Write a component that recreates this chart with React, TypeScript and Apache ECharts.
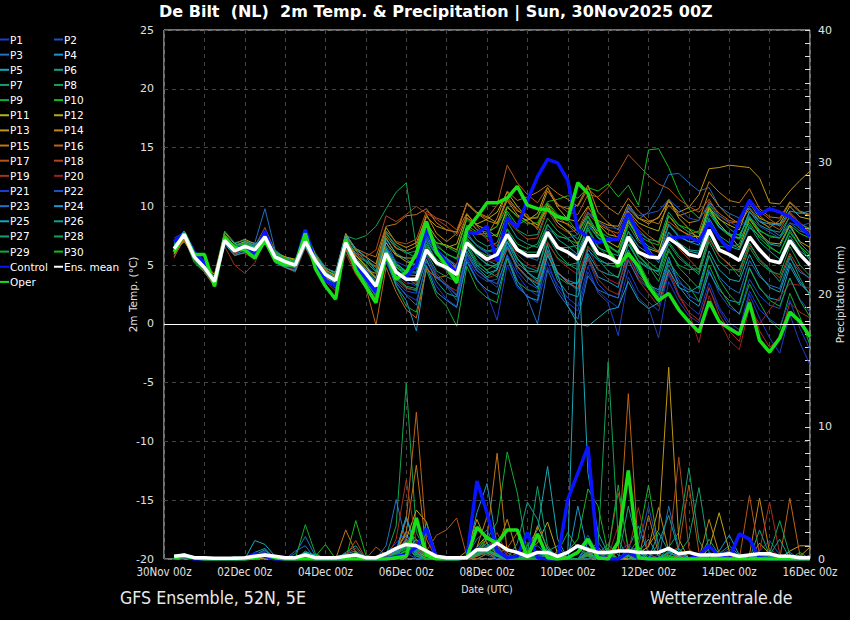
import React, { useEffect, useRef } from 'react';
import * as echarts from 'echarts';

const days = ['30Nov','01Dec','02Dec','03Dec','04Dec','05Dec','06Dec','07Dec','08Dec','09Dec','10Dec','11Dec','12Dec','13Dec','14Dec','15Dec','16Dec'];
const hours = ['00z','06z','12z','18z'];
const categories = days.flatMap(d => hours.map(h => `${d} ${h}`)).slice(0, 65);

const memberNames = ['P1','P2','P3','P4','P5','P6','P7','P8','P9','P10','P11','P12','P13','P14','P15','P16','P17','P18','P19','P20','P21','P22','P23','P24','P25','P26','P27','P28','P29','P30'];
const baseColors = ['#1e3cc8','#1e50c0','#2070c4','#1e96cc','#18a8b4','#12a08c','#12a06c','#12a452','#10ac38','#10bc1c','#b4b410','#bca814','#c09614','#c08614','#c07614','#c06414','#b85418','#b0441c','#a8301c','#a02020'];
const memberColors = [...baseColors, ...baseColors.slice(0, 10)];

// 2m temperature (°C), 6-hourly from 30Nov 06z to 16Dec 00z
const tP1 = [6.0,7.4,5.3,4.5, 3.3,6.8,6.0,6.2, 6.5,7.9,5.5,4.9, 4.6,7.3,5.0,3.8, 3.0,6.5,4.6,3.3, 2.2,5.2,3.4,2.5, 2.0,5.0,3.2,2.1, 1.5,5.5,3.8,2.6, 0.3,5.0,3.1,2.4, 1.8,4.8,3.3,2.2, 1.5,4.9,2.6,1.8, -1.0,4.0,2.2,1.4, -1.2,3.6,1.9,0.7, 0.1,3.0,1.2,-0.2, -0.8,2.5,0.5,-1.2, -2.5,0.8,-1.6,-3.5];
const tP2 = [6.8,7.9,6.1,5.0, 3.9,7.4,6.5,6.9, 6.0,7.2,5.4,5.0, 4.7,6.8,5.1,3.9, 3.3,6.4,4.8,3.6, 2.5,5.4,3.6,2.8, 2.6,5.8,4.0,3.2, 2.0,5.6,4.2,3.6, 3.8,6.9,4.5,3.5, 3.0,6.2,4.3,3.6, 2.8,5.5,3.4,2.5, 2.2,5.9,4.1,3.3, 2.7,5.4,3.8,2.4, 1.9,4.6,2.6,1.4, 0.9,3.8,2.4,1.6, 1.3,3.9,2.1,1.0];
const tP3 = [6.7,7.7,5.8,5.1, 3.8,7.2,6.7,7.0, 6.9,9.8,6.3,5.6, 5.3,7.4,5.7,4.4, 3.9,7.2,5.9,5.0, 4.0,7.0,5.2,4.4, 4.3,7.1,5.8,5.5, 5.0,7.8,6.6,6.1, 6.3,8.0,6.5,5.7, 5.4,7.6,6.6,6.2, 5.8,8.4,7.3,7.0, 7.2,9.8,8.9,9.5, 10.8,12.7,12.8,12.0, 11.3,11.6,10.0,9.4, 9.0,9.9,8.9,8.1, 7.5,8.6,7.9,7.6];
const tP4 = [7.1,7.8,5.5,4.6, 3.4,7.0,5.9,6.3, 6.1,7.0,5.3,5.1, 4.9,6.5,5.0,3.9, 3.5,6.6,5.0,4.0, 2.6,5.5,3.2,2.0, -0.6,4.9,2.7,2.0, 1.4,5.3,3.7,2.9, 2.5,5.6,3.3,2.3, 2.0,6.0,3.7,2.6, 2.3,5.8,4.0,3.6, 3.1,6.3,4.4,3.3, 2.9,5.7,3.2,2.1, 1.5,4.4,2.9,2.0, 1.8,4.8,3.0,2.2, 2.0,4.9,3.4,2.6];
const tP5 = [6.2,7.5,5.6,4.9, 3.7,7.3,6.3,6.8, 6.4,7.6,5.9,5.4, 5.2,7.1,5.5,4.4, 4.0,7.3,5.8,4.9, 3.9,6.6,5.1,4.5, 4.4,7.3,5.9,5.6, 4.8,7.2,6.2,5.4, 5.0,7.0,5.6,4.4, 3.6,6.3,4.4,3.5, 3.0,6.0,4.6,4.2, 4.0,6.8,5.3,4.7, 4.5,7.5,6.5,6.2, 6.0,8.8,7.2,6.6, 6.3,8.2,7.5,6.8, 6.6,8.3,6.9,6.0];
const tP6 = [6.5,7.7,5.9,5.0, 3.7,7.0,6.4,6.5, 6.4,7.5,6.0,5.5, 5.1,6.9,5.2,4.0, 3.2,6.3,4.5,3.5, 2.4,5.6,3.9,3.1, 2.8,5.5,3.6,2.6, 2.3,6.2,4.8,4.0, 4.6,7.4,5.5,4.8, 4.5,7.6,6.5,6.5, 6.7,8.8,7.9,7.4, 7.1,9.0,7.4,6.6, 6.2,8.5,7.5,7.0, 7.0,9.8,8.2,7.5, 7.3,9.6,8.4,8.0, 7.8,9.1,8.1,7.4];
const tP7 = [6.3,7.5,5.5,4.7, 3.5,7.0,6.1,6.4, 6.0,7.3,5.6,5.2, 5.0,7.5,5.8,4.8, 4.3,7.5,6.2,5.4, 4.9,7.8,6.5,6.0, 6.2,8.5,6.8,5.9, 5.6,8.3,7.1,6.6, 6.9,9.4,8.0,7.5, 7.6,9.8,8.6,7.9, 7.2,9.1,7.4,6.6, 6.1,8.6,7.8,7.2, 7.0,9.5,8.4,7.8, 7.4,10.2,9.0,8.1, 7.5,9.2,7.8,6.6, 6.0,8.0,6.6,5.4];
const tP8 = [6.6,7.9,5.8,4.8, 3.5,7.4,6.4,6.6, 6.2,7.6,5.9,5.5, 5.2,7.2,5.5,4.5, 4.2,7.5,7.2,7.5, 8.3,9.8,11.2,12.0, 6.5,7.0,5.3,4.5, 3.4,6.8,5.4,4.5, 4.0,6.4,4.8,3.9, 3.4,6.9,5.6,5.0, 5.2,7.5,6.1,5.8, 5.0,7.3,5.7,4.9, 3.6,6.2,5.0,4.6, 4.7,7.4,5.8,5.1, 4.0,6.5,5.2,4.5, 4.2,6.6,5.0,4.1];
const tP9 = [6.0,7.3,5.2,4.4, 3.2,7.6,6.5,6.9, 6.6,7.8,6.0,5.6, 5.3,7.0,5.3,4.1, 3.4,6.6,4.9,3.8, 2.3,5.9,3.2,1.5, 1.0,4.6,2.4,1.5, -0.2,4.9,3.0,2.2, 1.8,5.6,3.6,2.9, 2.7,5.9,4.0,3.4, 3.5,6.6,5.6,5.0, 4.8,7.1,5.3,3.6, 2.3,5.3,4.1,3.2, 1.9,5.0,3.1,1.7, 0.8,3.4,1.8,0.3, -0.5,2.6,0.6,-1.8];
const tP10 = [6.4,7.6,5.9,5.0, 3.8,7.0,6.3,6.7, 6.1,7.2,5.8,5.4, 5.0,7.0,5.6,4.3, 3.9,7.1,5.6,4.7, 3.6,6.3,5.0,4.4, 4.7,7.7,6.6,6.0, 5.5,8.4,7.8,7.4, 7.6,9.6,8.4,8.9, 9.1,10.4,10.6,10.9, 10.7,11.6,11.3,11.9, 10.8,11.8,10.1,14.8, 14.9,13.3,11.2,9.8, 9.0,10.0,8.5,7.6, 7.6,9.0,7.9,7.5, 7.3,8.4,7.7,7.3];
const tP11 = [5.9,7.4,6.0,5.1, 4.0,7.5,6.6,7.0, 6.7,7.7,6.1,5.7, 5.5,7.4,5.7,4.6, 4.1,7.2,5.8,4.9, 3.8,7.3,5.9,5.3, 5.0,8.0,6.9,6.7, 6.3,9.0,8.5,8.9, 9.5,11.2,10.0,9.0, 8.4,10.1,8.6,7.9, 6.8,8.7,7.6,7.0, 6.5,8.8,7.2,6.4, 6.1,9.2,8.1,7.5, 7.4,9.9,8.9,8.4, 8.0,10.3,9.0,8.6, 8.5,10.0,9.1,8.9];
const tP12 = [6.2,7.0,5.8,5.2, 4.2,7.8,6.8,7.2, 6.8,7.5,6.0,5.6, 5.4,7.3,5.5,4.5, 3.6,7.5,5.6,4.7, 3.9,6.9,5.8,5.6, 5.6,8.6,7.3,6.5, 6.8,9.3,8.4,8.0, 7.4,9.9,9.2,8.8, 9.4,11.6,9.9,8.9, 8.7,10.0,8.5,7.6, 7.4,9.6,8.6,8.2, 7.9,10.6,9.0,8.1, 7.1,9.8,8.5,7.6, 6.5,8.9,7.7,6.9, 6.8,8.4,7.0,6.5];
const tP13 = [6.1,7.3,5.6,4.9, 3.9,7.6,6.6,6.9, 6.5,7.8,6.1,5.7, 5.4,7.6,5.9,4.7, 4.4,7.7,6.3,5.7, 5.1,8.2,6.9,6.5, 6.9,9.1,8.3,8.0, 7.8,10.3,9.5,9.1, 8.6,10.5,9.3,8.7, 8.2,9.9,8.8,8.5, 7.9,9.5,8.8,8.4, 8.3,10.2,9.0,8.5, 9.1,10.4,9.5,9.9, 11.0,13.2,13.3,13.5, 13.4,13.3,12.4,10.3, 10.2,11.3,12.2,13.0];
const tP14 = [6.0,7.1,5.5,4.7, 3.6,7.2,6.3,6.4, 6.2,7.5,5.6,5.0, 4.8,6.9,5.3,4.3, 3.8,7.0,5.5,4.6, 4.3,7.5,6.4,6.2, 6.6,9.3,7.7,7.0, 7.7,10.2,9.4,8.8, 8.5,10.8,9.7,9.0, 9.0,11.3,10.1,9.8, 10.1,11.8,9.5,8.6, 8.0,9.9,9.0,8.7, 9.0,10.6,9.3,8.6, 8.8,11.2,10.0,9.1, 8.5,9.8,8.7,8.2, 8.8,10.3,9.5,9.2];
const tP15 = [5.7,7.2,5.4,4.6, 3.4,7.1,6.3,6.5, 6.1,7.4,5.5,5.1, 4.9,7.4,5.6,4.6, 4.0,7.6,6.4,6.0, 5.7,8.3,8.5,9.2, 9.3,9.8,8.6,8.0, 7.8,9.4,8.3,7.5, 9.0,11.3,10.5,10.8, 11.2,11.8,11.1,10.6, 10.0,11.5,10.7,9.9, 9.3,10.7,9.6,8.8, 8.5,10.1,9.2,9.5, 9.8,12.1,11.2,10.5, 10.3,11.5,9.8,9.1, 9.0,10.4,9.6,9.3];
const tP16 = [6.2,7.8,5.9,5.0, 3.9,7.1,6.2,6.7, 6.5,7.9,5.8,5.2, 4.8,7.1,5.2,4.0, 3.1,6.4,4.3,3.1, -0.1,4.8,2.7,1.2, 0.5,4.7,3.9,4.1, 5.1,8.2,7.6,7.7, 8.3,10.6,9.6,9.3, 8.0,10.2,9.1,8.4, 7.6,9.4,8.5,8.0, 7.7,9.5,8.3,7.5, 6.9,8.7,8.0,7.6, 7.9,10.4,9.4,8.8, 8.6,10.6,9.6,8.9, 8.3,9.4,8.4,7.8];
const tP17 = [6.3,7.9,5.7,4.9, 3.7,7.3,6.5,6.8, 6.6,8.2,6.2,5.5, 5.1,7.3,5.5,4.2, 3.5,7.0,5.8,5.3, 4.8,7.9,7.0,6.8, 7.2,9.6,9.0,8.7, 8.0,10.2,9.4,9.0, 10.1,13.5,12.0,11.0, 10.3,11.6,10.2,9.5, 9.3,11.0,10.8,11.6, 12.9,14.4,13.5,12.6, 11.9,11.5,10.6,10.0, 9.5,10.6,9.2,8.6, 8.7,10.3,9.2,8.5, 8.0,9.5,8.6,7.9];
const tP18 = [5.6,7.6,5.4,4.4, 3.2,6.9,5.9,6.0, 5.5,7.0,5.3,4.8, 4.6,6.6,5.1,4.0, 3.6,7.1,6.0,5.7, 6.3,9.2,8.7,9.3, 10.0,9.4,8.9,8.3, 7.5,9.1,8.0,7.2, 6.6,8.8,7.9,7.2, 7.3,9.7,8.3,7.8, 8.0,9.9,8.7,8.1, 7.3,9.1,8.0,7.2, 6.0,7.8,6.4,5.5, 4.6,7.2,5.8,5.0, 4.4,6.7,5.5,4.7, 3.9,6.0,4.6,3.8];
const tP19 = [6.1,7.5,5.6,4.6, 3.3,6.6,5.0,4.3, 5.2,7.3,5.4,4.8, 4.4,6.5,4.8,3.6, 2.8,6.0,4.2,3.0, 2.2,5.6,3.8,3.0, 2.9,5.9,4.1,3.3, 2.8,5.9,4.5,3.9, 4.2,6.5,4.8,4.0, 3.5,6.1,4.4,3.6, 3.0,5.6,3.8,2.9, 2.5,5.5,3.7,2.6, 1.5,4.4,2.3,1.0, 0.3,3.1,0.8,-0.6, -1.5,2.1,-0.6,-2.0, -1.2,1.8,1.0,0.5];
const tP20 = [6.5,7.7,5.8,4.9, 3.6,7.0,6.0,6.4, 6.2,7.6,5.6,5.2, 4.9,7.0,5.3,4.2, 3.7,6.9,5.2,4.2, 3.0,6.0,4.1,3.4, 3.5,6.5,5.0,4.6, 4.4,7.2,6.0,5.3, 5.4,7.3,5.9,5.1, 4.7,7.0,5.5,4.8, 4.2,6.5,4.7,3.8, 3.4,5.8,4.0,3.1, 2.2,4.7,2.5,1.0, -1.6,2.4,0.3,-1.4, -2.2,1.4,0.0,1.2, 2.3,3.4,3.3,3.0];
const tP21 = [7.3,7.8,6.0,5.0, 3.9,7.3,6.2,6.5, 6.4,7.7,5.9,5.4, 5.0,7.1,5.4,4.2, 3.6,6.8,5.2,4.2, 3.0,5.9,4.3,3.6, 3.2,5.8,4.3,3.4, 2.5,5.8,4.5,3.8, 3.1,5.9,4.2,3.0, 2.4,5.3,3.0,1.8, 1.1,4.4,2.8,2.0, 1.4,4.6,2.8,1.9, 1.1,4.2,2.4,1.5, 0.8,3.5,1.4,0.1, -0.5,2.8,1.2,0.4, -0.2,2.0,-0.4,-2.2];
const tP22 = [6.6,7.6,5.7,4.8, 3.5,6.9,6.3,6.6, 6.3,7.3,5.8,5.3, 5.0,6.8,5.3,4.1, 3.8,6.9,5.6,4.6, 3.8,6.5,5.3,4.9, 5.2,7.3,6.3,5.6, 5.0,7.6,6.6,6.0, 5.6,7.6,6.2,5.6, 5.8,8.1,7.4,7.3, 7.6,9.5,8.7,8.2, 8.1,10.0,9.2,9.4, 9.6,10.6,9.8,9.0, 8.8,10.3,9.2,8.7, 8.2,9.1,8.3,7.8, 7.3,8.6,8.3,8.6];
const tP23 = [6.8,7.7,5.9,5.1, 3.7,7.2,6.4,6.9, 6.7,7.9,6.0,5.6, 5.3,7.2,5.6,4.5, 3.8,6.7,4.8,3.6, 2.5,5.5,3.5,2.4, 1.6,5.3,3.9,3.3, 2.4,6.0,4.6,3.8, 3.4,5.8,3.7,2.2, 0.0,4.6,2.7,1.5, 0.4,4.1,2.9,2.5, 2.2,5.4,3.8,3.0, 2.5,5.0,3.5,2.9, 2.6,5.8,4.0,3.1, 2.6,5.4,4.0,3.3, 3.0,5.6,4.4,3.9];
const tP24 = [6.9,7.9,6.2,5.3, 3.8,7.2,6.6,6.8, 6.5,7.5,6.0,5.6, 5.4,7.4,5.8,4.7, 4.4,7.6,6.4,5.7, 4.5,7.2,6.0,5.5, 4.9,7.5,6.2,5.4, 4.3,7.0,5.8,5.1, 4.7,6.6,4.9,4.0, 3.1,5.8,4.3,3.7, 3.4,6.3,5.4,5.1, 5.2,7.9,6.6,6.0, 5.7,8.4,7.4,7.0, 6.7,9.4,8.2,7.7, 7.3,9.5,8.7,8.5, 8.4,9.6,9.4,9.6];
const tP25 = [6.4,7.4,5.5,4.6, 3.4,6.8,5.8,6.1, 5.9,7.1,5.2,4.8, 4.5,6.6,4.9,3.7, 3.1,6.6,5.1,4.3, 3.4,6.4,4.8,4.2, 4.1,6.8,5.4,4.6, 3.9,6.5,5.0,4.3, 4.6,7.0,5.2,4.4, 3.8,6.7,4.2,1.5, 0.0,-0.2,0.5,1.2, 1.4,3.6,2.0,1.3, 1.8,4.6,3.1,2.7, 3.2,6.2,4.6,3.8, 3.6,5.9,4.2,3.1, 2.7,5.2,3.6,2.5];
const tP26 = [6.7,7.6,5.9,5.0, 3.6,7.1,6.2,6.6, 6.4,7.4,5.7,5.4, 5.0,7.3,5.5,4.3, 3.7,7.0,5.5,4.5, 3.5,6.4,4.9,4.0, 3.3,6.2,5.0,4.7, 4.8,7.5,6.7,6.2, 6.4,8.7,7.3,6.8, 6.5,8.5,7.2,6.6, 5.9,8.0,6.5,6.1, 5.8,8.4,7.0,6.4, 5.2,7.8,6.9,6.3, 6.2,9.0,7.5,6.9, 6.4,8.4,7.0,6.2, 5.5,7.5,6.2,5.6];
const tP27 = [6.2,7.7,5.8,4.8, 3.5,7.9,6.9,7.1, 6.6,7.6,5.9,5.4, 5.2,7.8,6.0,4.8, 4.2,7.3,6.0,5.3, 4.4,7.7,6.7,6.1, 5.6,8.0,6.4,5.5, 4.6,7.0,5.8,5.0, 4.9,7.3,5.6,4.5, 4.4,7.5,6.0,5.1, 4.6,7.2,5.5,4.5, 3.9,6.8,5.4,4.8, 4.4,6.8,5.6,4.9, 4.2,7.0,5.3,4.6, 4.6,6.9,5.4,4.6, 3.6,5.8,3.9,2.4];
const tP28 = [6.5,7.8,5.4,4.5, 3.3,7.2,6.7,6.9, 6.6,7.9,6.2,5.6, 5.2,6.9,5.4,4.1, 3.5,6.6,4.8,3.6, 2.6,5.7,4.0,3.2, 3.0,6.1,4.5,4.0, 3.6,6.6,5.2,4.6, 5.1,7.6,6.4,6.1, 6.1,8.4,7.5,7.2, 6.8,8.6,7.3,6.6, 6.0,7.8,6.2,5.3, 4.6,7.0,5.8,5.0, 4.4,7.6,6.6,6.5, 6.8,9.1,8.0,7.4, 7.3,9.2,8.5,8.1];
const tP29 = [6.3,7.6,5.6,4.8, 3.6,7.4,6.4,6.7, 6.4,7.6,5.9,5.5, 5.1,7.1,5.4,4.3, 3.8,6.8,5.2,4.1, 3.0,6.1,4.6,3.9, 3.6,6.6,5.5,5.0, 4.7,7.3,6.3,5.8, 5.8,8.1,6.8,6.4, 6.8,9.0,7.9,7.3, 6.3,8.2,6.6,5.7, 4.9,7.3,5.8,5.0, 4.1,6.4,4.8,3.9, 3.0,5.8,3.8,2.5, 1.6,4.7,3.1,2.0, 1.5,3.9,2.0,0.6];
const tP30 = [6.6,7.8,6.0,5.0, 3.9,7.6,6.6,6.8, 6.4,7.8,6.1,5.6, 5.3,7.2,5.6,4.4, 3.8,7.0,5.3,4.3, 3.2,6.2,4.8,4.4, 4.9,7.8,6.9,6.6, 6.1,8.9,8.0,7.8, 8.3,10.0,9.1,8.5, 8.6,10.3,9.3,8.9, 7.8,9.2,7.7,6.7, 6.1,8.6,7.5,7.0, 6.7,9.2,8.4,8.1, 7.7,9.6,8.3,7.6, 7.2,8.6,7.3,6.5, 6.0,7.8,6.6,5.8];
const tControl = [7.0,7.7,6.1,5.2, 3.5,7.1,6.5,6.5, 6.0,7.9,5.6,5.0, 5.0,8.0,5.2,3.7, 3.2,7.0,5.0,3.9, 2.7,5.7,4.0,4.0, 5.0,8.0,6.3,5.2, 4.4,7.8,7.7,8.3, 5.3,9.0,8.2,10.5, 12.5,14.0,13.7,12.2, 8.0,7.4,6.9,7.2, 7.2,9.4,7.7,6.0, 5.5,7.3,7.4,7.4, 7.0,8.6,7.3,6.3, 8.8,10.5,9.3,9.8, 9.5,9.1,8.4,7.4];
const tOper = [6.1,7.7,5.9,5.9, 3.2,7.3,6.5,6.3, 5.6,7.1,5.4,5.0, 5.0,7.7,4.7,3.2, 2.1,7.2,4.6,3.2, 1.8,5.9,3.8,4.4, 6.0,8.7,6.1,4.9, 3.5,8.0,9.1,10.3, 10.3,10.7,11.7,10.1, 9.8,9.7,9.1,8.9, 12.0,11.1,8.3,6.3, 4.9,6.0,4.9,3.2, 2.0,2.6,1.2,0.2, -0.7,1.9,0.2,-0.4, -0.9,1.8,-1.4,-2.4, -1.2,1.0,0.2,-1.1];
const tMean = [6.4,7.6,5.7,4.8, 3.6,7.1,6.2,6.6, 6.3,7.4,5.7,5.3, 5.0,7.0,5.4,4.2, 3.7,6.9,5.3,4.3, 3.2,6.0,4.4,3.8, 3.8,6.3,5.2,4.8, 4.2,6.9,6.1,5.5, 5.9,7.6,6.3,5.8, 5.8,7.8,6.5,6.1, 5.5,7.4,6.0,5.7, 5.2,7.4,6.1,5.7, 5.6,7.3,6.7,5.9, 5.7,8.0,6.3,5.9, 5.4,7.4,6.3,5.4, 5.2,7.1,5.9,5.0];

// 6-hourly precipitation (mm)
const pP1 = [0.2,0.3,0.1,0, 0,0,0,0.1, 0.3,0.5,0.1,0, 0.2,0.4,0,0, 0,0.3,0.2,0, 0,0.5,1.2,2.0, 0.4,0,0,0, 0,0,0.8,1.5, 0.3,0,0.2,0.6, 0,0,0,0.4, 0.9,0.2,0,0, 0.6,1.1,0.3,0, 0,0.4,0.2,0, 0,0,0.3,0.8, 0.2,0,0,0, 0.1,0.3,0,0];
const pP2 = [0.1,0.2,0,0, 0,0,0,0, 0.2,0.6,0.2,0, 0,0.3,0.1,0, 0,0,0.4,0.1, 0,0.2,0.8,0.5, 0,0,0,0, 0,0,0.3,0.9, 1.4,0.2,0,0, 0.3,0,0,0, 0.5,1.8,0.4,0, 0,0.2,0,0, 0.3,0.9,0.1,0, 0,0.5,0.2,0, 0,0,0.6,1.4, 0.3,0,0,0];
const pP3 = [0,0.1,0,0, 0,0,0.1,0, 0,0.3,0,0, 0.4,1.7,0.2,0, 0,0.2,0,0, 0,1.0,4.5,1.2, 0,0,0,0, 0,0,0.5,0.3, 0,0,0.4,0, 0,0,0,0, 0,0.6,0,0, 0,0.3,0.9,0.2, 0,4.0,0.8,0, 0,0,0,0.2, 0,0,0,0, 0.2,0.5,0,0];
const pP4 = [0.3,0.2,0,0, 0,0,0,0, 0.1,0.4,0.2,0, 0,0.5,0.3,0, 0,0.4,0.6,0, 0,0,0.8,1.8, 0.6,0,0,0, 0,0.2,3.5,5.7, 1.0,0,0,0.3, 0.2,0,0,0, 0,1.2,0.3,0, 0,0.8,2.5,0.4, 0,0,0.3,0, 0,0,0.2,0, 0.4,0,0,0.3, 0,0,0,0];
const pP5 = [0.2,0.4,0.1,0, 0,0,0,0, 1.4,1.1,0.2,0, 0,0.2,0,0, 0,0.3,0,0, 0,0.2,0.6,3.2, 0.9,0,0,0, 0,0,0.4,1.2, 0.5,0,0,1.0, 2.2,7.0,1.5,0, 0,0.4,0,0, 0,0,0.5,1.5, 0.2,0,0,0, 0,0.3,0,0, 0,0,0.5,0.2, 0,0,0,0];
const pP6 = [0,0.3,0,0, 0,0,0.2,0, 0.5,0.8,0,0, 0,0,0.4,0, 0,0.5,1.0,0, 0,0,0.3,0.6, 1.5,0.4,0,0, 0,0,0,0.4, 0.2,0,0,0, 0,0.5,0.3,0, 0,0,0.8,0, 0,0.6,0,0, 1.2,3.3,0.6,0, 0,0,0.4,1.0, 0.3,0,0,0, 0,0.2,0,0];
const pP7 = [0.1,0.2,0,0, 0,0,0,0, 0,0.2,0,0, 0,0.6,0.2,0, 0,0.4,0.3,0, 0,0,0.5,1.0, 0.8,2.0,0,0, 0,0,0.2,0.6, 0,0,0,0, 0,0.8,0.2,0, 0,0,0.4,1.1, 0.3,0,0,0, 0,0.9,2.0,6.9, 1.4,0,0,0, 0,0,0.3,0, 0,0,0.2,0];
const pP8 = [0,0.1,0,0, 0,0,0,0, 0.2,0.3,0,0, 0,0.4,0,0, 0,0.2,0.5,0, 0,0.3,2.5,13.3, 2.0,0.5,0,0, 0,0,0.4,0.8, 0.2,0,0,0, 0,0.5,0,0, 0,0.6,0,0, 0,0.3,0.2,0, 0,0,0,0.5, 0,0,0,0, 0,0,0,0.4, 2.9,0.3,0,0];
const pP9 = [0.2,0.3,0,0, 0,0,0,0, 0,0.2,0,0, 0,2.6,0.4,0, 0,0,0.2,0, 0,0,0.6,0.9, 0.2,0,0,0, 0,0,0.7,1.5, 2.8,8.1,5.0,0.5, 0,0.3,0,0, 0,0.2,0,0, 0,0.8,0.3,0, 0,0,0,0, 0,0.3,0,0, 0,0,0.2,0, 0,0,0.5,0];
const pP10 = [0,0.2,0,0, 0,0,0,0, 0,0.4,0,0, 0,0.3,0.2,1.1, 0,0,2.9,0.3, 0,0,0.2,0.7, 1.2,0,0,0, 0,0,0.5,0.9, 0.5,0,0.2,0, 0,0,0.4,0, 0,0.9,0.3,0, 0,0.4,1.5,5.6, 0.8,0,0,0, 0,0,0.3,0.5, 0,0,0,0, 0,0,0,0.2];
const pP11 = [0,0.1,0,0, 0,0,0,0, 0,0.2,0,0, 0,0.3,0,0, 0,0.2,0,0, 0,0,0.5,1.5, 1.0,0,0,0, 0,0,0.9,1.8, 0.6,0,0,0, 0,0.4,0.2,0, 0,0,0.5,0, 0,0.2,0.8,0, 0,0,0.3,0, 0,0,0,0.2, 0,0,1.2,0.4, 0,0,0,0];
const pP12 = [0.1,0.2,0,0, 0,0,0,0, 0,0.1,0,0, 0,0.2,0,0, 0,0,0.4,0, 0,0,0.3,1.5, 3.7,2.8,0.3,0, 0,0,0.3,0.5, 0,0,0.3,0.6, 1.2,2.8,0.4,0, 0,0.3,0,0, 0,0.6,0.9,0, 0,0,0.2,0, 0,0.8,3.5,0.6, 0,0,0.4,0.2, 0,0.6,1.0,1.0];
const pP13 = [0,0.1,0,0, 0,0,0,0, 0,0.2,0,0, 0,0.3,0,0, 0,0.2,0,0, 0,0,0.8,1.3, 0.7,0,0,0, 0,0.6,3.0,1.2, 0.3,0,0,0.3, 2.5,0.8,0,0, 0,0.5,0,0, 0,0,0.3,1.0, 2.2,14.5,1.5,0, 0,0.3,0,0, 0,0,0,0.5, 0,0,0.2,0.9];
const pP14 = [0.1,0.2,0,0, 0,0,0,0, 0,0.3,0,0, 0,0.2,0,0, 0,0.4,0,0, 0,0,0.6,2.1, 1.5,0,0,0, 0,0,0.9,3.2, 0.8,3.0,0.4,0, 0,0.2,0,0, 0,0,0.4,0.8, 0,0,0.5,0.9, 3.9,0.6,0,0, 0,3.0,0.4,0, 0,0.3,4.6,0.5, 0,0,0,0];
const pP15 = [0.2,0.3,0,0, 0,0,0,0, 0,0.3,0,0, 0,0.2,0,0, 0,2.2,0.5,0, 0,0,0.5,2.0, 7.1,0.6,0,0, 0,0,0.2,1.6, 8.0,0.5,0,0, 0,0.4,0,0, 0,0.3,0.6,0, 0,0.3,0,3.3, 0.4,0,0.2,0, 0,0,0,0.3, 0,0,0.2,0, 0,0.2,0,0];
const pP16 = [0,0.2,0,0, 0,0,0,0, 0,0.3,0,0, 0,0.2,0,0, 0,0.3,0,0, 0,0,0.4,3.0, 11.1,1.5,0,0, 0,0,0.2,0.5, 0.4,0.8,2.0,0.3, 0,0,0.6,0, 0,0.4,0.9,0.2, 0.5,12.5,0.6,0, 0,0,0.3,0, 0,0,0.2,0.6, 0,0,0,0.5, 0,4.6,0.3,0];
const pP17 = [0.1,0.2,0,0, 0,0,0,0, 0,0.2,0,0, 0,0.4,0,0, 0,0.3,0.2,0, 0.9,0.3,0.8,1.0, 0.5,0.6,1.8,2.2, 3.1,0.2,0,0.4, 0.3,0,0.5,0, 0,0.3,0,0, 0,0,0.4,0, 0,0.6,0,0, 0,0.4,0.9,5.6, 0.5,0,0,0, 0,4.8,0.3,0, 0,0,0,0.2];
const pP18 = [0,0.1,0,0, 0,0,0,0, 0,0.2,0,0, 0,0.3,0,0, 0,0.2,1.4,0, 0,0.2,0.5,0.8, 0.3,0,0,0, 0,0,0.4,0.6, 0.3,0,0,0, 0,0.3,0,0, 0,0,0.3,0.6, 5.0,0.9,0,0, 0,0.5,7.7,0.8, 0,0,0,0.3, 0,0,0,0.5, 0,0,0,0];
const pP19 = [0.1,0.2,0,0, 0,0,0,0, 0,0.2,0,0, 0,0.2,0,0, 0,0.4,0.8,0, 0,0,1.5,6.0, 1.2,0,0,0, 0,0,0.5,0.7, 2.0,0.3,0,0, 0,0.2,0,0, 0,0,0.4,0, 0,0.5,3.9,0.4, 0,0,0.3,0, 0,0,0,0.2, 0,0,0.6,4.3, 0.4,0,0,0];
const pP20 = [0,0.2,0,0, 0,0,0,0, 0,0.3,0,0, 0,0.2,0,0, 0,0.2,0.4,0, 0.2,0,0.4,1.6, 0.6,0,0,0, 0,0,0.3,0.5, 1.1,0,0,0, 0,0.4,0,0, 0,0,0.3,0.2, 2.5,0.4,0,0, 0,0.3,0,0, 0,0,0,0, 0.3,0,0,0.8, 0.2,0,0,0];
const pP21 = [0.2,0.1,0,0, 0,0,0,0, 0,0.2,0,0, 0,0.4,0,0, 0,0,0.3,0, 0,0.3,0.6,1.0, 0.5,0,0,0, 0,0.3,0.9,0.6, 0,0,0,0, 0,0,0.2,0, 0,0.8,0.3,0, 0,0.2,0.6,0, 0,0,0,0, 0,0.4,0,0, 0,0,0,0, 0,0,0,0];
const pP22 = [0,0.2,0,0, 0,0,0,0, 0,0.3,0,0, 0,0.2,0,0, 0,0.2,0,0, 0,0,0.4,0.9, 0.3,0,0,0, 0,0,0.4,1.0, 0.5,0,0,0.4, 0,0.2,0,0, 0,0,0.3,0.5, 0,0.5,1.0,4.0, 0.8,0,0,0, 0,0.2,0.6,0, 0,0.3,0,0, 0,0,0,0];
const pP23 = [0.1,0.2,0,0, 0,0,0,0, 0,0.2,0,0, 0.6,1.0,0,0, 0,0.2,0,0, 0,0.2,0.7,1.4, 0.8,0.2,0,0, 0,0.2,1.5,2.2, 0.4,0,0,0.8, 1.0,0.3,0,0, 0,0.5,1.3,0.2, 0,0.3,0.8,0.2, 0,0.6,0.4,0, 0,0,0.3,0.6, 0.2,0,0,0.3, 0,0,0,0];
const pP24 = [0.2,0.3,0,0, 0,0,0,0, 0.3,0.7,0,0, 0,0.3,0.2,0, 0,0.4,0,0, 0,0,0.6,3.2, 0.5,0,0,0, 0,0,0.4,0.7, 0.3,0,0,0.5, 0.4,0.6,0.3,0, 4.0,0.5,0,0, 0,0.6,0.3,0, 0,0.5,0.2,0, 0,0.3,0.6,1.8, 0.3,0,0.5,0.2, 0,0,0,0.3];
const pP25 = [0.1,0.2,0,0, 0,0,0,0, 0,0.3,0,0, 0,0.5,0.3,0, 0,0.2,0,0, 0,0,0.5,1.0, 0.4,0,0,0, 0,0,0.3,0.6, 0.2,0,0,0, 0.4,0.3,0,0.5, 24.0,6.5,2.0,0.4, 0,0.3,0.5,0, 0,0.2,0.8,0, 0,0,0,0.4, 0,0,0.3,0, 0.2,0,0,0];
const pP26 = [0,0.2,0,0, 0,0,0,0, 0,0.4,0,0, 0,0.2,0,0, 0,0.3,0,0, 0,0,0.4,0.8, 0.6,2.7,0.3,0, 0,0,0.5,1.0, 0.8,0,1.2,4.3, 3.0,0.6,1.0,0, 0,0,0.4,0, 0,4.0,0.8,0, 2.0,0.6,0,0, 0,0,0,0.4, 0,0,2.2,0.3, 1.5,0,0,0];
const pP27 = [0.2,0.3,0,0, 0,0,0,0, 0,0.2,0,0, 0,0.5,0,0, 0,0.2,0,0, 0,0.3,0.5,1.5, 0.3,2.0,0,0, 0,0,0.7,1.2, 0.5,0,0.3,0.4, 5.5,1.0,0,0, 0,0.3,0,0.6, 0,0.2,0,0, 0,0.6,0.4,1.5, 5.4,0.5,0,0, 0,0,0.2,0, 0,0.3,0,0];
const pP28 = [0,0.2,0,0, 0,0,0,0, 0,0.3,0,0, 0,0.4,0,0, 0,0.2,0,0, 0,0,0.3,0.9, 0.2,0,0,0, 0,0,0.3,0.5, 0.4,0,0,0, 0,0.4,0,0, 0,0.5,1.0,14.9, 1.5,0,0,0, 0,0.2,0,0, 0,1.5,0.3,0, 0,0,0,0.5, 0,0,0,0];
const pP29 = [0.1,0.2,0,0, 0,0,0,0, 0,0.3,0,0, 0,0.2,0,0, 0,0,0.5,0, 0,0,0.4,1.0, 0.5,0,0,0, 0,0,0.6,1.8, 0.6,0,0,0, 0,0,0.5,2.0, 0.8,0.3,0,0.5, 5.6,0.6,0,0, 0,0.2,0,0, 0,0,0.4,0, 0,0,0,0, 0,0,0.3,0];
const pP30 = [0,0.2,0,0, 0,0,0,0, 0,0.2,0,0, 0,0.3,0,0, 0,0.2,0,0, 0,0,0.2,0.6, 1.5,0,0,0, 0,0,0.4,0.8, 0.3,0,0,0, 0,0.3,0,0.6, 1.5,5.3,4.0,0.4, 0,0.3,1.0,0, 0,0.3,0,0, 0,0,0.2,0, 0,0,0,0.5, 0,0.2,0,0];
const pControl = [0.1,0.2,0,0, 0,0,0,0, 0.4,0.2,0,0, 0,0.2,0,0, 0,0,0.1,0, 0,0,0.2,0.3, 0.9,2.3,0.1,0, 0,0.1,5.9,3.5, 0.6,0.1,0.2,2.0, 0.1,0,0,4.5, 6.5,8.5,0.2,0, 0,0.5,0.1,0, 0,0,0,0, 0.3,1.0,0.2,0, 1.9,1.5,0.1,0, 0,0,0,0];
const pOper = [0.1,0.2,0.1,0, 0,0,0,0, 0.1,0.3,0.1,0, 0,0,0,0, 0,0,0,0, 0,0,0.1,0.2, 3.1,0.3,0,0, 0,0.1,2.4,1.6, 1.2,2.2,2.2,0.1, 1.9,0.1,0,0.1, 0.5,1.5,0.1,0, 1.3,6.7,0.1,0, 0,0,0,0, 0,0,0,0, 0,0,0,0, 0,0,0,0];
const pMean = [0.2,0.3,0.1,0.1, 0.05,0.05,0.05,0.1, 0.2,0.3,0.2,0.1, 0.1,0.3,0.1,0.1, 0.1,0.2,0.3,0.1, 0.1,0.4,0.8,1.1, 1.0,0.6,0.2,0.1, 0.1,0.1,0.7,0.7, 1.2,0.7,0.5,0.2, 0.5,0.5,0.2,0.5, 1.0,0.7,0.5,0.5, 0.6,0.6,0.5,0.5, 0.5,0.8,0.4,0.5, 0.3,0.3,0.3,0.4, 0.2,0.3,0.4,0.4, 0.2,0.2,0.1,0.1];

const memberTemps = [tP1,tP2,tP3,tP4,tP5,tP6,tP7,tP8,tP9,tP10,tP11,tP12,tP13,tP14,tP15,tP16,tP17,tP18,tP19,tP20,tP21,tP22,tP23,tP24,tP25,tP26,tP27,tP28,tP29,tP30];
const memberPrecs = [pP1,pP2,pP3,pP4,pP5,pP6,pP7,pP8,pP9,pP10,pP11,pP12,pP13,pP14,pP15,pP16,pP17,pP18,pP19,pP20,pP21,pP22,pP23,pP24,pP25,pP26,pP27,pP28,pP29,pP30];

const CONTROL_COLOR = '#0a14ff';
const OPER_COLOR = '#18e018';
const MEAN_COLOR = '#ffffff';
const FONT = 'DejaVu Sans';
const COND = 'DejaVu Sans Condensed';

const pad = (a: number[]) => [null, ...a];

function lineSeries(name: string, data: number[], color: string, width: number, axis: number, z: number, extra: any = {}) {
  return {
    name, type: 'line', data: pad(data), yAxisIndex: axis,
    showSymbol: false, symbol: 'none', silent: true, z,
    lineStyle: { color, width }, itemStyle: { color },
    ...extra,
  };
}

function buildLegendGraphics() {
  const entries: { name: string; color: string }[] = [];
  memberNames.forEach((n, i) => entries.push({ name: n, color: memberColors[i] }));
  entries.push({ name: 'Control', color: CONTROL_COLOR });
  entries.push({ name: 'Ens. mean', color: MEAN_COLOR });
  entries.push({ name: 'Oper', color: OPER_COLOR });
  const els: any[] = [];
  entries.forEach((e, k) => {
    const row = Math.floor(k / 2);
    const col = k % 2;
    const y = 39.5 + row * 15.15;
    const x0 = col === 0 ? 0 : 54;
    els.push({ type: 'line', shape: { x1: x0, y1: y, x2: x0 + 9, y2: y }, style: { stroke: e.color, lineWidth: 2 }, silent: true });
    els.push({ type: 'text', x: x0 + 10, y, style: { text: e.name, fill: '#ffffff', fontSize: 10.5, fontFamily: FONT, verticalAlign: 'middle', align: 'left' }, silent: true });
  });
  return els;
}

export default function App() {
  const ref = useRef<HTMLDivElement>(null);
  useEffect(() => {
    if (!ref.current) return;
    const chart = echarts.init(ref.current, undefined, { renderer: 'svg' });
    const series: any[] = [];
    memberNames.forEach((n, i) => {
      const extra = i === 0 ? {
        markLine: { silent: true, symbol: 'none', label: { show: false }, lineStyle: { color: '#ffffff', type: 'solid', width: 1 }, data: [{ yAxis: 0 }] },
      } : {};
      series.push(lineSeries(n, memberTemps[i], memberColors[i], 1, 0, 2, extra));
      series.push(lineSeries(n, memberPrecs[i], memberColors[i], 1, 1, 2));
    });
    series.push(lineSeries('Control', tControl, CONTROL_COLOR, 3.5, 0, 3));
    series.push(lineSeries('Control', pControl, CONTROL_COLOR, 3.5, 1, 3));
    series.push(lineSeries('Oper', tOper, OPER_COLOR, 3.5, 0, 4));
    series.push(lineSeries('Oper', pOper, OPER_COLOR, 3.5, 1, 4));
    series.push(lineSeries('Ens. mean', tMean, MEAN_COLOR, 3.5, 0, 5));
    series.push(lineSeries('Ens. mean', pMean, MEAN_COLOR, 3.5, 1, 5));

    const labelColor = '#e0e0e0';
    const gridLine = { color: '#444444', type: [4, 4], width: 1 };

    chart.setOption({
      backgroundColor: '#000000',
      animation: false,
      title: {
        text: 'De Bilt  (NL)  2m Temp. & Precipitation | Sun, 30Nov2025 00Z',
        left: 159, top: 3, padding: 0,
        textStyle: { color: '#ffffff', fontSize: 16, fontWeight: 'bold', fontFamily: FONT },
      },
      grid: { left: 164, right: 40, top: 30, bottom: 61, show: true, borderColor: '#e8e8e8', borderWidth: 1, backgroundColor: '#000000', containLabel: false, outerBoundsMode: 'none' },
      xAxis: {
        type: 'category', data: categories, boundaryGap: false,
        axisLine: { show: false }, axisTick: { show: false },
        axisLabel: { interval: 7, color: labelColor, fontSize: 11.5, fontFamily: COND, margin: 7 },
        splitLine: { show: true, interval: 3, lineStyle: gridLine },
        name: 'Date (UTC)', nameLocation: 'middle', nameGap: 24, nameMoveOverlap: false,
        nameTextStyle: { color: labelColor, fontSize: 10.5, fontFamily: COND },
      },
      yAxis: [
        {
          type: 'value', min: -20, max: 25, interval: 5, position: 'left',
          axisLine: { show: false }, axisTick: { show: false },
          axisLabel: { color: labelColor, fontSize: 11, fontFamily: FONT, margin: 10 },
          splitLine: { show: true, lineStyle: gridLine },
          name: '2m Temp. (°C)', nameLocation: 'middle', nameGap: 26, nameMoveOverlap: false,
          nameTextStyle: { color: labelColor, fontSize: 10.5, fontFamily: FONT },
        },
        {
          type: 'value', min: 0, max: 40, interval: 10, position: 'right',
          axisLine: { show: false },
          axisTick: { show: true, inside: true, length: 5, lineStyle: { color: '#e0e0e0' } },
          minorTick: { show: true, splitNumber: 10, length: 5, lineStyle: { color: '#e0e0e0' } },
          axisLabel: { color: labelColor, fontSize: 11, fontFamily: FONT, margin: 8 },
          splitLine: { show: false },
          name: 'Precipitation (mm)', nameLocation: 'middle', nameGap: 24, nameMoveOverlap: false,
          nameTextStyle: { color: labelColor, fontSize: 10.5, fontFamily: FONT },
        },
      ],
      graphic: [
        ...buildLegendGraphics(),
        { type: 'text', x: 120, y: 598, silent: true, style: { text: 'GFS Ensemble, 52N, 5E', fill: '#e8e8e8', fontSize: 17.6, fontFamily: COND, verticalAlign: 'middle', align: 'left' } },
        { type: 'text', x: 650, y: 598, silent: true, style: { text: 'Wetterzentrale.de', fill: '#e8e8e8', fontSize: 17.6, fontFamily: COND, verticalAlign: 'middle', align: 'left' } },
      ],
      series,
    });
    return () => chart.dispose();
  }, []);
  return <div ref={ref} style={{ position: 'fixed', left: 0, top: 0, width: 850, height: 620, background: '#000' }} />;
}
